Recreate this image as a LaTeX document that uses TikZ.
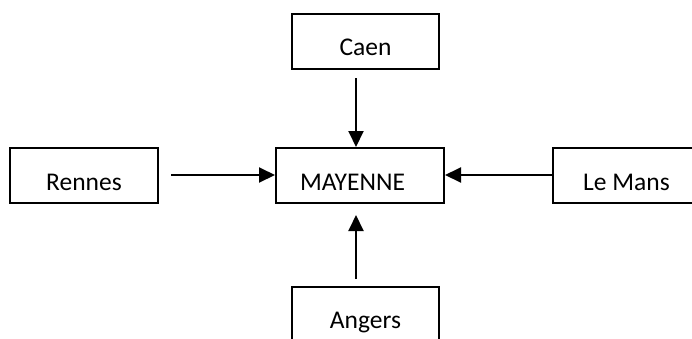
\documentclass[tikz,border=0pt]{standalone}
\usepackage{fontspec}
\setmainfont{Carlito}
\usepackage{tikz}
\usetikzlibrary{arrows.meta}

\tikzset{
    town/.style={draw=black,line width=2pt,minimum width=147pt,minimum height=55pt,
        inner sep=0pt,font=\fontsize{25.5}{30}\selectfont,text height=30pt,text depth=0.7pt},
    link/.style={black,line width=2pt,-{Triangle[length=16pt,width=15pt]}}
}

\begin{document}
\begin{tikzpicture}[x=1pt,y=-1pt]
            \useasboundingbox (0,0) rectangle (692,338);
            \node[town] (caen) at (365.5,41){Caen};
            \node[town,minimum width=148pt] (rennes) at (84,175.5){Rennes};
            \node[town,minimum width=168pt] (mayenne) at (360,175.5){MAYENNE\hspace*{15pt}};
            \node[town] (lemans) at (626.5,175.5){Le Mans};
            \node[town] (angers) at (365.5,314){Angers};

            \coordinate (c1) at (356,78);
            \coordinate (r1) at (171,175);
            \coordinate (l1) at (553,175);
            \coordinate (a1) at (356,279);
            \coordinate (a2) at (356,215);
            \draw[link](c1) -- (c1 |- mayenne.north);
            \draw[link](r1) -- (r1 -| mayenne.west);
            \draw[link](l1) -- (l1 -| mayenne.east);
            \draw[link](a1) -- (a2);
        \end{tikzpicture}
\end{document}
